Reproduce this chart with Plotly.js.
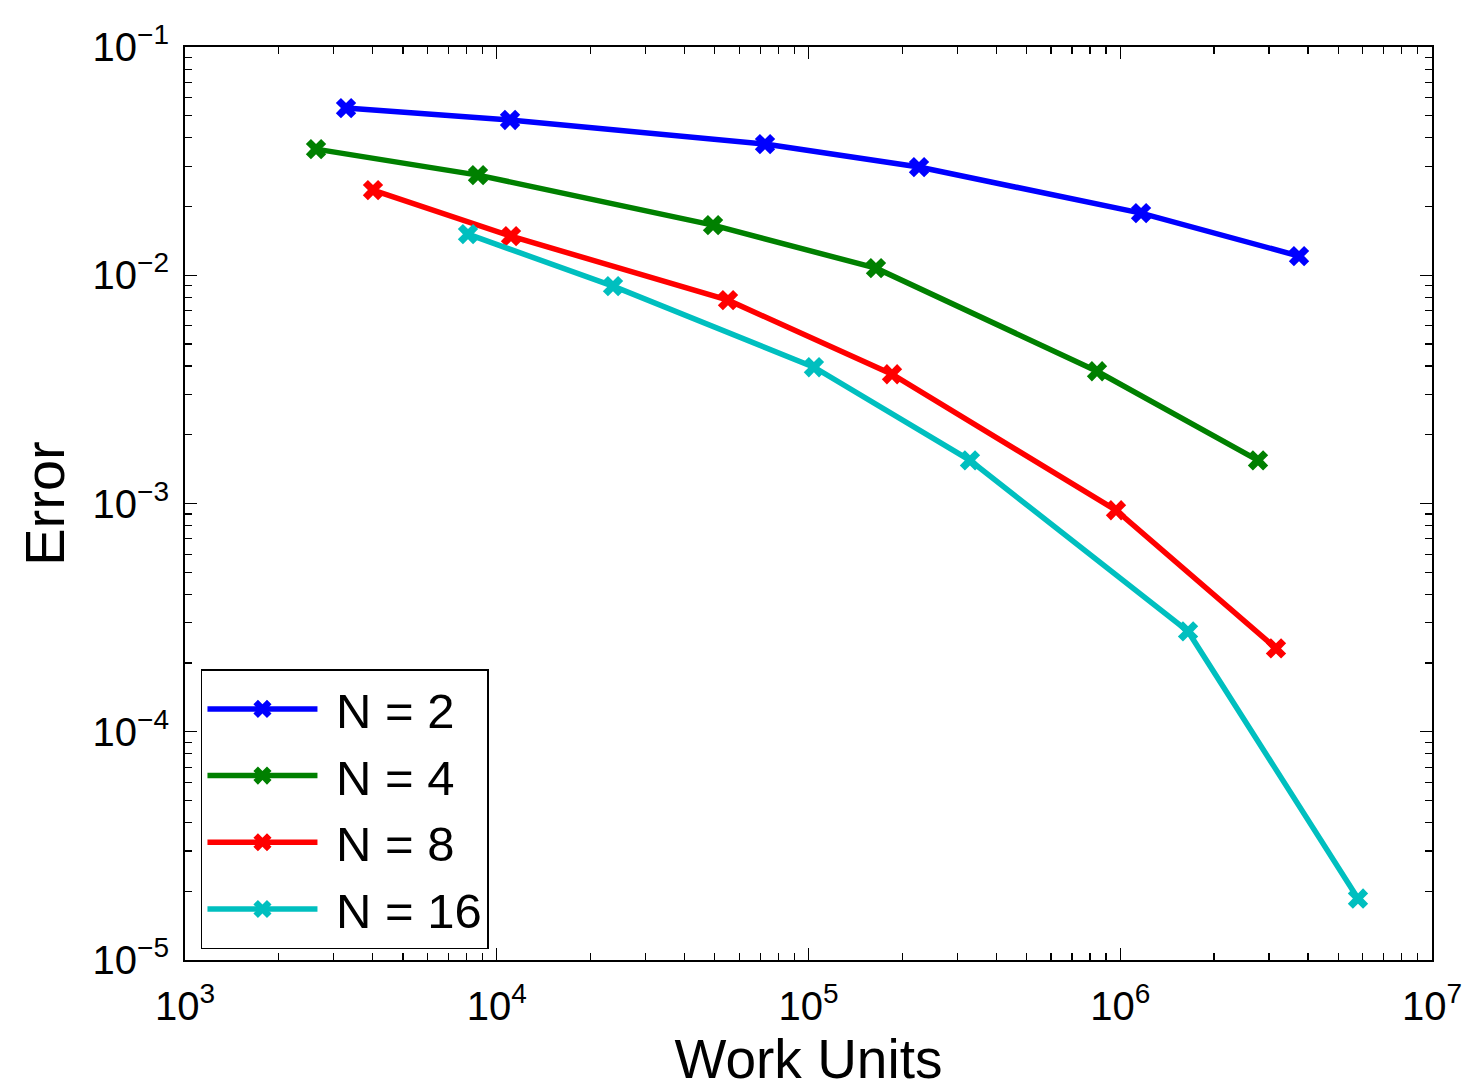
<!DOCTYPE html>
<html>
<head>
<meta charset="utf-8">
<script src="https://cdn.plot.ly/plotly-3.0.1.min.js"></script>
<style>
  html, body { margin: 0; padding: 0; background: #ffffff; }
  #chart { width: 1464px; height: 1090px; }
</style>
</head>
<body>
<div id="chart"></div>
<script>
// Work units vs. error for different N
const workN2  = [3285, 11030, 72530, 226200, 1166000, 3745000];
const errN2   = [0.0540, 0.0479, 0.03756, 0.02978, 0.01872, 0.01213];

const workN4  = [2632, 8707, 49400, 164600, 842200, 2766000];
const errN4   = [0.0357, 0.02747, 0.01658, 0.01074, 0.003798, 0.001546];

const workN8  = [4009, 11110, 55180, 185300, 969100, 3159000];
const errN8   = [0.02361, 0.01484, 0.007777, 0.003684, 0.000934, 0.0002318];

const workN16 = [8087, 23600, 104100, 329600, 1650000, 5788000];
const errN16  = [0.01514, 0.008956, 0.003955, 0.001546, 0.0002752, 0.00001859];

const seriesNames  = ['\u00a0N = 2', '\u00a0N = 4', '\u00a0N = 8', '\u00a0N = 16'];
const seriesColors = ['#0000ff', '#008000', '#ff0000', '#00bfbf'];

const xTickVals = [1e3, 1e4, 1e5, 1e6, 1e7];
const xTickText = ['10<sup>3</sup>', '10<sup>4</sup>', '10<sup>5</sup>', '10<sup>6</sup>', '10<sup>7</sup>'];
const yTickVals = [1e-5, 1e-4, 1e-3, 1e-2, 1e-1];
const yTickText = ['10<sup>−5</sup>', '10<sup>−4</sup>', '10<sup>−3</sup>', '10<sup>−2</sup>', '10<sup>−1</sup>'];

// minor log ticks at 2..9 within each decade
function minorTicks(decades) {
  const out = [];
  decades.forEach(d => { for (let m = 2; m <= 9; m++) out.push(m * Math.pow(10, d)); });
  return out;
}
const xMinor = minorTicks([3, 4, 5, 6]);
const yMinor = minorTicks([-5, -4, -3, -2]);

const xs = [workN2, workN4, workN8, workN16];
const ys = [errN2, errN4, errN8, errN16];

const FONT = 'Liberation Sans, Arial, Helvetica, sans-serif';

const traces = xs.map((x, i) => ({
  x: x,
  y: ys[i],
  name: seriesNames[i],
  type: 'scatter',
  mode: 'lines+markers',
  line: { color: seriesColors[i], width: 5.5 },
  marker: { symbol: 'x', size: 18, color: seriesColors[i], line: { width: 0 } }
}));

function axis(minorVals) {
  return {
    type: 'log',
    showgrid: false,
    zeroline: false,
    showline: true,
    linecolor: '#000000',
    linewidth: 2,
    mirror: 'allticks',
    ticks: 'inside',
    ticklen: 12,
    tickwidth: 1.2,
    tickcolor: '#000000',
    tickmode: 'array',
    minor: { tickmode: 'array', tickvals: minorVals, ticks: 'inside', ticklen: 7, tickwidth: 1.2, tickcolor: '#000000', showgrid: false },
    tickfont: { family: FONT, size: 40, color: '#000000' },
    automargin: false
  };
}

const layout = {
  width: 1464,
  height: 1090,
  margin: { l: 185, r: 32, t: 47, b: 130 },
  paper_bgcolor: '#ffffff',
  plot_bgcolor: '#ffffff',
  showlegend: true,
  xaxis: Object.assign(axis(xMinor), {
    range: [3, 7],
    tickvals: xTickVals,
    ticktext: xTickText,
    ticklabelstandoff: 10,
    title: { text: 'Work Units', font: { family: FONT, size: 55, color: '#000000' }, standoff: 10 }
  }),
  yaxis: Object.assign(axis(yMinor), {
    range: [-5, -1],
    tickvals: yTickVals,
    ticktext: yTickText,
    ticklabelstandoff: 6,
    title: { text: 'Error', font: { family: FONT, size: 56, color: '#000000' }, standoff: 10 }
  }),
  legend: {
    x: 0.0128,
    y: 0.012,
    xanchor: 'left',
    yanchor: 'bottom',
    bgcolor: '#ffffff',
    bordercolor: '#000000',
    borderwidth: 1.5,
    itemwidth: 110,
    font: { family: FONT, size: 49, color: '#000000' },
    tracegroupgap: 0
  }
};

Plotly.newPlot('chart', traces, layout, { staticPlot: true, displayModeBar: false });
</script>
</body>
</html>
